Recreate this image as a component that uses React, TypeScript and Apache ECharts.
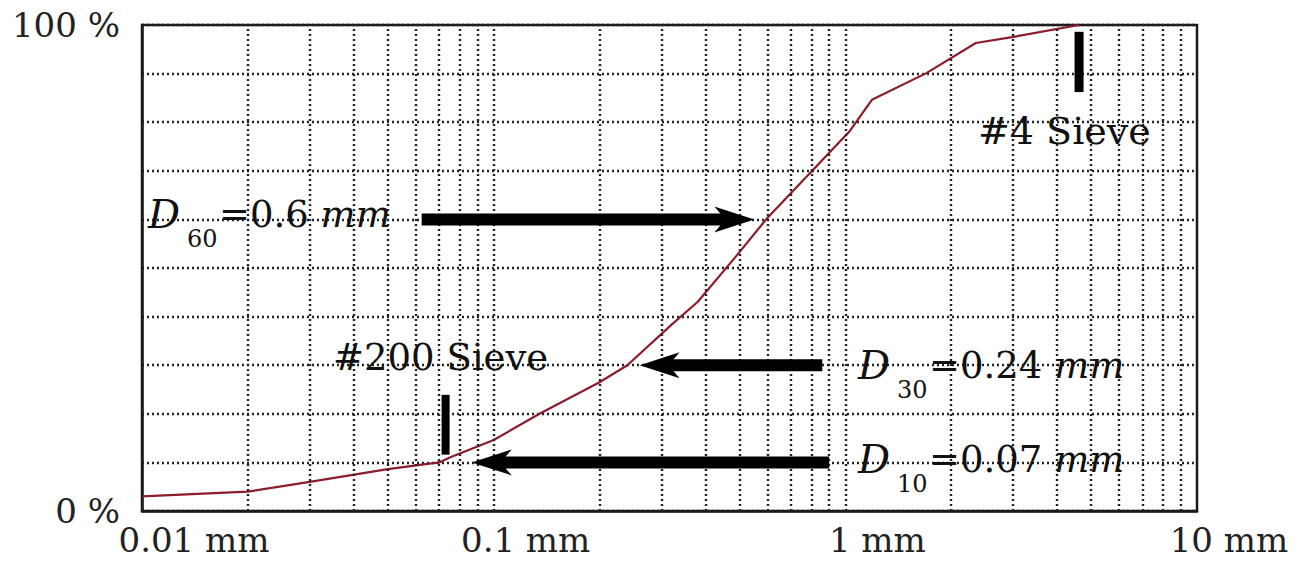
import React, { useEffect, useRef } from "react";
import * as echarts from "echarts";

// Grain size (mm) and percent passing
const grainSize = [0.01, 0.02, 0.03, 0.05, 0.07, 0.075, 0.1, 0.135, 0.2, 0.24, 0.32, 0.38, 0.49, 0.6, 0.8, 1.03, 1.19, 1.7, 2.35, 2.98, 4.62];
const percentPassing = [3, 4, 6, 8.6, 10, 11, 14.6, 20, 26.5, 30, 38.3, 43, 52.5, 60.3, 69.8, 78.2, 84.6, 90.1, 96.3, 97.5, 100];

const xTickLabels = ["0.01 mm", "0.1 mm", "1 mm", "10 mm"];
const yTickLabels: Record<number, string> = { 0: "0 %", 100: "100 %" };

// Vertical dotted grid lines (log-scale sub-divisions)
const xGridLines = [
  0.02, 0.03, 0.04, 0.05, 0.06, 0.07, 0.08, 0.09, 0.1,
  0.2, 0.3, 0.4, 0.5, 0.6, 0.7, 0.8, 0.9, 1,
  2, 3, 4, 5, 6, 7, 8, 9,
];

// Annotation arrows: tail size, tip size, percent
const arrows = [
  { from: 0.0624, to: 0.551, at: 60 },
  { from: 0.86, to: 0.26, at: 30 },
  { from: 0.9, to: 0.0866, at: 10 },
];

// Sieve markers: size, bottom %, top %
const sieves = [
  { size: 0.073, lo: 11.6, hi: 23.9, w: 8 },
  { size: 4.62, lo: 86.2, hi: 98.6, w: 9 },
];

const SERIF = "'DejaVu Serif', serif";

export default function App() {
  const ref = useRef<HTMLDivElement>(null);
  useEffect(() => {
    const chart = echarts.init(ref.current!, null, { renderer: "svg" });
    const dotted = { type: [2, 3] as any, width: 2.4, color: "#222" };
    chart.setOption({
      animation: false,
      backgroundColor: "#fff",
      grid: {
        left: 142, right: 104, top: 25, bottom: 52,
        show: true, borderColor: "#1a1a1a", borderWidth: 2.5,
      },
      xAxis: {
        type: "log", logBase: 10, min: 0.01, max: 10,
        axisLine: { show: true, lineStyle: { color: "#1a1a1a", width: 2.5 } },
        axisTick: { show: false },
        splitLine: { show: false },
        axisLabel: {
          margin: 12,
          color: "#222",
          showMinLabel: true, showMaxLabel: true,
          formatter: (v: number) => {
            const i = Math.round(Math.log10(v)) + 2;
            return i === 0 ? `{f|${xTickLabels[0]}}` : `{n|${xTickLabels[i]}}`;
          },
          rich: {
            f: { fontFamily: SERIF, fontSize: 34, color: "#222", padding: [0, 0, 0, 104] },
            n: { fontFamily: SERIF, fontSize: 34, color: "#222", padding: [0, 0, 0, 64] },
          },
        },
      },
      yAxis: {
        type: "value", min: 0, max: 100, interval: 10,
        axisLine: { show: true, lineStyle: { color: "#1a1a1a", width: 2.5 } },
        axisTick: { show: false },
        splitLine: { show: true, lineStyle: dotted },
        axisLabel: {
          margin: 22,
          fontFamily: SERIF, fontSize: 34, color: "#222",
          formatter: (v: number) => yTickLabels[v] ?? "",
        },
      },
      series: [
        {
          type: "line",
          data: [],
          z: 1,
          markLine: {
            silent: true,
            symbol: ["none", "none"],
            label: { show: false },
            lineStyle: dotted,
            data: xGridLines.map((v) => ({ xAxis: v })),
          },
        },
        {
          type: "line",
          z: 3,
          symbol: "none",
          smooth: false,
          lineStyle: { color: "#8b1c2c", width: 2.2 },
          data: grainSize.map((s, i) => [s, percentPassing[i]]),
        },
      ],
    });

    const px = (x: number, y: number) => chart.convertToPixel({ gridIndex: 0 }, [x, y]) as number[];

    const arrowPoly = (x1: number, x2: number, y: number) => {
      const shaft = 12, headLen = 40, headW = 26, notch = 6;
      const d = x2 > x1 ? 1 : -1;
      const hb = x2 - d * headLen;
      return [
        [x1, y - shaft / 2], [hb + d * notch, y - shaft / 2], [hb, y - headW / 2],
        [x2, y], [hb, y + headW / 2], [hb + d * notch, y + shaft / 2], [x1, y + shaft / 2],
      ];
    };

    const graphics: any[] = [];
    arrows.forEach((a) => {
      const p1 = px(a.from, a.at);
      const p2 = px(a.to, a.at);
      graphics.push({
        type: "polygon", z: 10,
        shape: { points: arrowPoly(p1[0], p2[0], p1[1]) },
        style: { fill: "#000" },
      });
    });
    sieves.forEach((s) => {
      const top = px(s.size, s.hi);
      const bot = px(s.size, s.lo);
      graphics.push({
        type: "rect", z: 10,
        shape: { x: top[0] - s.w / 2, y: top[1], width: s.w, height: bot[1] - top[1] },
        style: { fill: "#000" },
      });
    });

    const txt = (x: number, y: number, text: string, font: string) => ({
      type: "text", z: 11, x, y,
      style: { text, font, fill: "#111", align: "left", verticalAlign: "middle" },
    });

    graphics.push(txt(978, 131, "#4 Sieve", `38px ${SERIF}`));
    graphics.push(txt(333, 357, "#200 Sieve", `37px ${SERIF}`));

    const dLabel = (x: number, yMid: number, sub: string, val: string) => {
      graphics.push(txt(x, yMid, "D", `italic 40px ${SERIF}`));
      graphics.push(txt(x + 39, yMid + 25, sub, `24px ${SERIF}`));
      graphics.push({
        type: "text", z: 11, x: x + 71, y: yMid,
        style: {
          text: `{n|${val}}{m| mm}`,
          align: "left", verticalAlign: "middle",
          rich: {
            n: { font: `37px ${SERIF}`, fill: "#111" },
            m: { font: `italic 37px ${SERIF}`, fill: "#111" },
          },
        },
      });
    };
    dLabel(148, 214, "60", "=0.6");
    dLabel(858, 365, "30", "=0.24");
    dLabel(858, 459, "10", "=0.07");

    chart.setOption({ graphic: graphics });
    return () => chart.dispose();
  }, []);

  return (
    <div
      ref={ref}
      style={{ position: "fixed", left: 0, top: 0, width: 1301, height: 563, background: "#fff" }}
    />
  );
}
